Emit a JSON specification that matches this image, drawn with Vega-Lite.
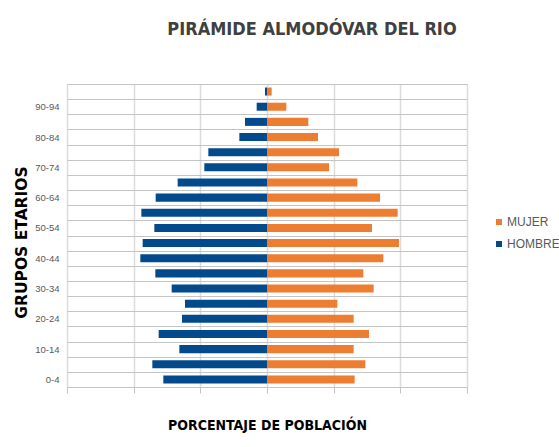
{
  "$schema": "https://vega.github.io/schema/vega-lite/v6.json",
  "width": 400,
  "height": 303,
  "autosize": "none",
  "padding": {"left": 67, "top": 84, "right": 92, "bottom": 60},
  "background": "white",
  "title": {
    "text": "PIRÁMIDE ALMODÓVAR DEL RIO",
    "font": "DejaVu Sans Condensed",
    "fontSize": 18,
    "fontWeight": "bold",
    "color": "#404040",
    "anchor": "middle",
    "dx": 45,
    "offset": 40
  },
  "data": {
    "values": [
      {"grupo": "95+", "sexo": "HOMBRE", "pct": -0.06},
      {"grupo": "90-94", "sexo": "HOMBRE", "pct": -0.31},
      {"grupo": "85-89", "sexo": "HOMBRE", "pct": -0.66},
      {"grupo": "80-84", "sexo": "HOMBRE", "pct": -0.83},
      {"grupo": "75-79", "sexo": "HOMBRE", "pct": -1.76},
      {"grupo": "70-74", "sexo": "HOMBRE", "pct": -1.88},
      {"grupo": "65-69", "sexo": "HOMBRE", "pct": -2.68},
      {"grupo": "60-64", "sexo": "HOMBRE", "pct": -3.34},
      {"grupo": "55-59", "sexo": "HOMBRE", "pct": -3.77},
      {"grupo": "50-54", "sexo": "HOMBRE", "pct": -3.38},
      {"grupo": "45-49", "sexo": "HOMBRE", "pct": -3.73},
      {"grupo": "40-44", "sexo": "HOMBRE", "pct": -3.8},
      {"grupo": "35-39", "sexo": "HOMBRE", "pct": -3.35},
      {"grupo": "30-34", "sexo": "HOMBRE", "pct": -2.86},
      {"grupo": "25-29", "sexo": "HOMBRE", "pct": -2.46},
      {"grupo": "20-24", "sexo": "HOMBRE", "pct": -2.55},
      {"grupo": "15-19", "sexo": "HOMBRE", "pct": -3.25},
      {"grupo": "10-14", "sexo": "HOMBRE", "pct": -2.63},
      {"grupo": "5-9", "sexo": "HOMBRE", "pct": -3.44},
      {"grupo": "0-4", "sexo": "HOMBRE", "pct": -3.11},
      {"grupo": "95+", "sexo": "MUJER", "pct": 0.14},
      {"grupo": "90-94", "sexo": "MUJER", "pct": 0.58},
      {"grupo": "85-89", "sexo": "MUJER", "pct": 1.24},
      {"grupo": "80-84", "sexo": "MUJER", "pct": 1.53},
      {"grupo": "75-79", "sexo": "MUJER", "pct": 2.16},
      {"grupo": "70-74", "sexo": "MUJER", "pct": 1.86},
      {"grupo": "65-69", "sexo": "MUJER", "pct": 2.71},
      {"grupo": "60-64", "sexo": "MUJER", "pct": 3.39},
      {"grupo": "55-59", "sexo": "MUJER", "pct": 3.92},
      {"grupo": "50-54", "sexo": "MUJER", "pct": 3.15},
      {"grupo": "45-49", "sexo": "MUJER", "pct": 3.96},
      {"grupo": "40-44", "sexo": "MUJER", "pct": 3.49},
      {"grupo": "35-39", "sexo": "MUJER", "pct": 2.89},
      {"grupo": "30-34", "sexo": "MUJER", "pct": 3.2},
      {"grupo": "25-29", "sexo": "MUJER", "pct": 2.11},
      {"grupo": "20-24", "sexo": "MUJER", "pct": 2.6},
      {"grupo": "15-19", "sexo": "MUJER", "pct": 3.06},
      {"grupo": "10-14", "sexo": "MUJER", "pct": 2.6},
      {"grupo": "5-9", "sexo": "MUJER", "pct": 2.95},
      {"grupo": "0-4", "sexo": "MUJER", "pct": 2.63}
    ]
  },
  "mark": {"type": "bar", "height": {"band": 0.53}},
  "encoding": {
    "y": {
      "field": "grupo",
      "type": "nominal",
      "sort": ["95+", "90-94", "85-89", "80-84", "75-79", "70-74", "65-69", "60-64", "55-59", "50-54", "45-49", "40-44", "35-39", "30-34", "25-29", "20-24", "15-19", "10-14", "5-9", "0-4"],
      "scale": {"paddingInner": 0, "paddingOuter": 0},
      "axis": {
        "title": "GRUPOS ETARIOS",
        "titleFont": "DejaVu Sans",
        "titleFontSize": 15.5,
        "titleFontWeight": "bold",
        "titleColor": "#000000",
        "titleAngle": -90,
        "titleAlign": "center",
        "titleBaseline": "alphabetic",
        "titleX": -41,
        "titleY": 158,
        "labelFont": "Liberation Sans",
        "labelFontSize": 9.5,
        "labelColor": "#595959",
        "labelPadding": 8,
        "labelExpr": "indexof(['90-94','80-84','70-74','60-64','50-54','40-44','30-34','20-24','10-14','0-4'], datum.value) >= 0 ? datum.label : ''",
        "ticks": false,
        "domain": false,
        "grid": true,
        "tickBand": "extent",
        "gridColor": "#c4c4c4",
        "gridWidth": 1
      }
    },
    "x": {
      "field": "pct",
      "type": "quantitative",
      "stack": null,
      "scale": {"domain": [-6, 6], "nice": false},
      "axis": {
        "title": "PORCENTAJE DE POBLACIÓN",
        "titleFont": "DejaVu Sans Condensed",
        "titleFontSize": 14,
        "titleFontWeight": "bold",
        "titleColor": "#000000",
        "titlePadding": 25,
        "labels": false,
        "values": [-6, -4, -2, 0, 2, 4, 6],
        "grid": true,
        "gridColor": "#dcdcdc",
        "gridWidth": 1.5,
        "ticks": true,
        "tickSize": 6,
        "tickColor": "#c4c4c4",
        "domainColor": "#c4c4c4"
      }
    },
    "color": {
      "field": "sexo",
      "type": "nominal",
      "scale": {"domain": ["MUJER", "HOMBRE"], "range": ["#ED7D31", "#034A8C"]},
      "legend": {
        "title": null,
        "orient": "none",
        "legendX": 426,
        "legendY": 132,
        "symbolType": "square",
        "symbolSize": 36,
        "symbolStrokeWidth": 0,
        "labelFont": "Liberation Sans",
        "labelFontSize": 12,
        "labelColor": "#595959",
        "labelOffset": 2,
        "rowPadding": 10,
        "padding": 0
      }
    }
  },
  "config": {
    "view": {"stroke": "#c4c4c4", "strokeWidth": 1}
  }
}
